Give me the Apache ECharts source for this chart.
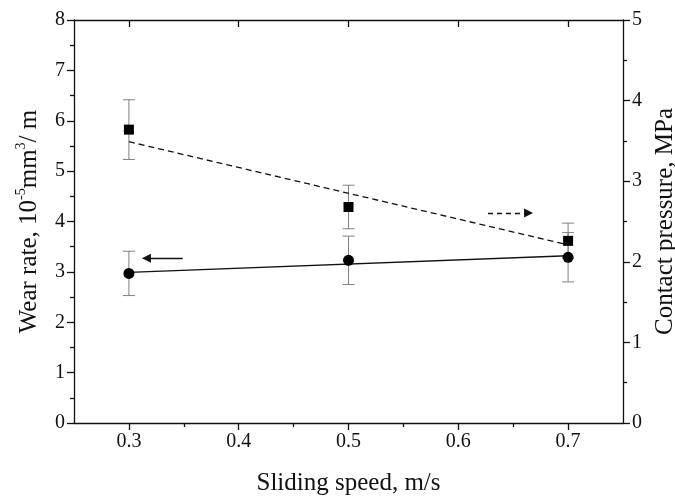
<!DOCTYPE html>
<html>
<head>
<meta charset="utf-8">
<script src="https://cdn.jsdelivr.net/npm/echarts@6/dist/echarts.min.js"></script>
<style>
html,body{margin:0;padding:0;background:#fff;}
#chart{width:675px;height:498px;}
</style>
</head>
<body>
<div id="chart"></div>
<script>
// ---- data ----
const speeds = [0.3, 0.5, 0.7];
const wearRate = [2.97, 3.23, 3.29];
const wearErr = [0.44, 0.48, 0.49];
const pressure = [3.64, 2.68, 2.26];
const pressureErr = [0.37, 0.27, 0.22];
const fitX = [0.3, 0.7];
const wearFit = [2.99, 3.32];
const pressureFit = [3.49, 2.21];
const xTicks = [0.3, 0.4, 0.5, 0.6, 0.7];
const xMinorTicks = [0.35, 0.45, 0.55, 0.65];
const leftArrow = [[0.349, 3.27], [0.316, 3.27]];   // annotation, left axis units
const rightArrow = [[0.627, 4.17], [0.664, 4.17]];  // annotation, left axis units

const FONT = "'Liberation Serif', 'Times New Roman', serif";
const INK = '#111';

function pairs(xs, ys) { return xs.map((x, i) => [x, ys[i]]); }
function errData(xs, ys, es) { return xs.map((x, i) => [x, ys[i] - es[i], ys[i] + es[i]]); }

function errRender(params, api) {
  const x = api.value(0), lo = api.value(1), hi = api.value(2);
  const a = api.coord([x, hi]), b = api.coord([x, lo]);
  const w = 6;
  const st = { stroke: '#808080', lineWidth: 1 };
  return {
    type: 'group',
    children: [
      { type: 'line', shape: { x1: a[0], y1: a[1], x2: b[0], y2: b[1] }, style: st },
      { type: 'line', shape: { x1: a[0] - w, y1: a[1], x2: a[0] + w, y2: a[1] }, style: st },
      { type: 'line', shape: { x1: b[0] - w, y1: b[1], x2: b[0] + w, y2: b[1] }, style: st }
    ]
  };
}

const axisLineStyle = { color: INK, width: 1.3 };
const labelStyle = { fontFamily: FONT, fontSize: 20, color: INK };

const chart = echarts.init(document.getElementById('chart'), null, { renderer: 'canvas' });
chart.setOption({
  backgroundColor: '#fff',
  animation: false,
  grid: { left: 74, right: 52, top: 20, bottom: 75, containLabel: false, outerBoundsMode: 'none' },
  xAxis: [
    {
      type: 'value', min: 0.25, max: 0.75, position: 'bottom',
      name: 'Sliding speed, m/s', nameLocation: 'middle', nameGap: 48,
      nameTextStyle: { fontFamily: FONT, fontSize: 25, color: INK },
      axisLine: { show: true, onZero: false, lineStyle: axisLineStyle },
      axisTick: { show: true, inside: false, length: 7, customValues: xTicks, lineStyle: axisLineStyle },
      axisLabel: { show: true, customValues: xTicks, formatter: v => v.toFixed(1), margin: 9, ...labelStyle },
      splitLine: { show: false }
    },
    {
      type: 'value', min: 0.25, max: 0.75, position: 'bottom',
      axisLine: { show: false, onZero: false },
      axisTick: { show: true, inside: false, length: 4, customValues: xMinorTicks, lineStyle: axisLineStyle },
      axisLabel: { show: false },
      splitLine: { show: false }
    },
    {
      type: 'value', min: 0.25, max: 0.75, position: 'top',
      axisLine: { show: true, onZero: false, lineStyle: axisLineStyle },
      axisTick: { show: true, inside: true, length: 7, customValues: xTicks, lineStyle: axisLineStyle },
      axisLabel: { show: false },
      splitLine: { show: false }
    }
  ],
  yAxis: [
    {
      type: 'value', min: 0, max: 8, interval: 1, position: 'left',
      name: '{a|Wear rate, 10}{s|-5}{a|mm}{s|3}{a|/ m}',
      nameLocation: 'middle', nameGap: 30, nameRotate: 90,
      nameTextStyle: {
        fontFamily: FONT, color: INK,
        rich: {
          a: { fontFamily: FONT, fontSize: 25, color: INK, lineHeight: 30 },
          s: { fontFamily: FONT, fontSize: 14, color: INK, lineHeight: 30, verticalAlign: 'top', padding: [0, 0, 12, 0] }
        }
      },
      axisLine: { show: true, onZero: false, lineStyle: axisLineStyle },
      axisTick: { show: true, inside: false, length: 7, lineStyle: axisLineStyle },
      minorTick: { show: true, splitNumber: 2, length: 4, lineStyle: axisLineStyle },
      axisLabel: { margin: 9, ...labelStyle },
      splitLine: { show: false }
    },
    {
      type: 'value', min: 0, max: 5, interval: 1, position: 'right',
      name: 'Contact pressure, MPa',
      nameLocation: 'middle', nameGap: 28, nameRotate: 90,
      nameTextStyle: { fontFamily: FONT, fontSize: 25, color: INK },
      axisLine: { show: true, onZero: false, lineStyle: axisLineStyle },
      axisTick: { show: true, inside: false, length: 7, lineStyle: axisLineStyle },
      minorTick: { show: true, splitNumber: 2, length: 4, lineStyle: axisLineStyle },
      axisLabel: { margin: 9, ...labelStyle },
      splitLine: { show: false }
    }
  ],
  series: [
    {
      type: 'line', name: 'wear fit', xAxisIndex: 0, yAxisIndex: 0,
      data: pairs(fitX, wearFit), showSymbol: false, symbol: 'none',
      lineStyle: { color: INK, width: 1.3, type: 'solid' }, z: 3, silent: true
    },
    {
      type: 'line', name: 'pressure fit', xAxisIndex: 0, yAxisIndex: 1,
      data: pairs(fitX, pressureFit), showSymbol: false, symbol: 'none',
      lineStyle: { color: INK, width: 1.3, type: [6, 4] }, z: 3, silent: true
    },
    {
      type: 'custom', name: 'wear err', xAxisIndex: 0, yAxisIndex: 0,
      data: errData(speeds, wearRate, wearErr), renderItem: errRender,
      encode: { x: 0, y: [1, 2] }, z: 2, silent: true
    },
    {
      type: 'custom', name: 'pressure err', xAxisIndex: 0, yAxisIndex: 1,
      data: errData(speeds, pressure, pressureErr), renderItem: errRender,
      encode: { x: 0, y: [1, 2] }, z: 2, silent: true
    },
    {
      type: 'scatter', name: 'Wear rate', xAxisIndex: 0, yAxisIndex: 0,
      data: pairs(speeds, wearRate), symbol: 'circle', symbolSize: 11,
      itemStyle: { color: '#000', opacity: 1 }, z: 5
    },
    {
      type: 'scatter', name: 'Contact pressure', xAxisIndex: 0, yAxisIndex: 1,
      data: pairs(speeds, pressure), symbol: 'rect', symbolSize: 10,
      itemStyle: { color: '#000', opacity: 1 }, z: 5
    },
    {
      type: 'lines', coordinateSystem: 'cartesian2d', xAxisIndex: 0, yAxisIndex: 0,
      data: [{ coords: leftArrow }], symbol: ['none', 'triangle'], symbolSize: [0, 9],
      lineStyle: { color: INK, width: 1.3, type: 'solid', opacity: 1 }, z: 4, silent: true
    },
    {
      type: 'lines', coordinateSystem: 'cartesian2d', xAxisIndex: 0, yAxisIndex: 0,
      data: [{ coords: rightArrow }], symbol: ['none', 'triangle'], symbolSize: [0, 9],
      lineStyle: { color: INK, width: 1.3, type: [5, 4], opacity: 1 }, z: 4, silent: true
    }
  ]
});
</script>
</body>
</html>
